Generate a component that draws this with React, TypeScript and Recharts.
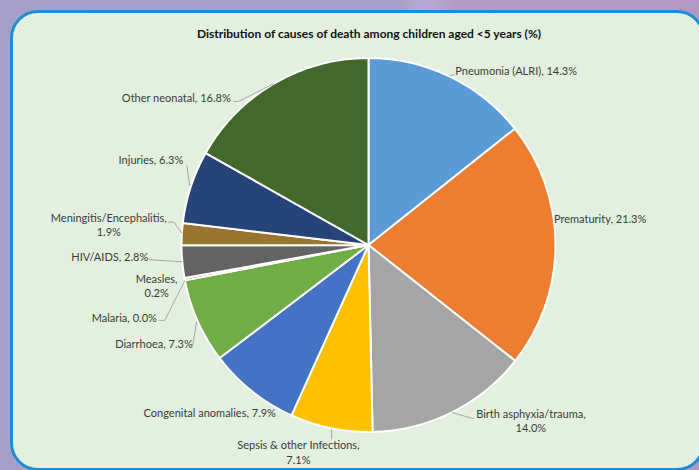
import React from 'react';
import { PieChart, Pie, Cell } from 'recharts';

const causes = [
  'Pneumonia (ALRI)',
  'Prematurity',
  'Birth asphyxia/trauma',
  'Sepsis & other Infections',
  'Congenital anomalies',
  'Diarrhoea',
  'Malaria',
  'Measles',
  'HIV/AIDS',
  'Meningitis/Encephalitis',
  'Injuries',
  'Other neonatal',
];
const shares = [14.3, 21.3, 14.0, 7.1, 7.9, 7.3, 0.0, 0.2, 2.8, 1.9, 6.3, 16.8];
const sliceColors = [
  '#5b9bd5', '#ed7d31', '#a5a5a5', '#ffc000', '#4472c4', '#70ad47',
  '#255e91', '#9e480e', '#636363', '#98742e', '#264478', '#43682b',
];

const data = causes.map((name, i) => ({ name, value: shares[i] }));

// label placement, relative to the point where the slice's mid angle meets the rim
type LabelPos = { dx: number; dy: number; anchor: 'start' | 'middle' | 'end'; twoLines?: boolean; line?: number[][] };
const labelPos: LabelPos[] = [
  { dx: 5.5, dy: -5.5, anchor: 'start', line: [[0, -1], [5, -2]] },
  { dx: -1.5, dy: -26, anchor: 'start' },
  { dx: 79, dy: 1.6, anchor: 'middle', twoLines: true, line: [[0, 0], [20, 6], [22, 6]] },
  { dx: -32.7, dy: 17.4, anchor: 'middle', twoLines: true, line: [[0.5, 1], [0.5, 11]] },
  { dx: 24, dy: 22, anchor: 'end' },
  { dx: -5, dy: 23, anchor: 'end', line: [[-1, 0], [-5, 24], [-7, 24]] },
  { dx: -28, dy: 38, anchor: 'end', line: [[0, 0], [-20, 40], [-26, 40]] },
  { dx: -28, dy: 0, anchor: 'middle', twoLines: true },
  { dx: -34, dy: -5, anchor: 'end', line: [[-33, -2], [0, 0]] },
  { dx: -73, dy: -16, anchor: 'middle', twoLines: true, line: [[-14, -12], [-8, -12], [0, -1]] },
  { dx: -7.5, dy: -27, anchor: 'end', line: [[-4, -22], [-1, -1]] },
  { dx: -43.5, dy: 15, anchor: 'end', line: [[-41, 18], [-36, 18], [0, 0]] },
];

const RAD = Math.PI / 180;

const renderLabel = (props: any) => {
  const { cx, cy, midAngle, outerRadius, index, name, value } = props;
  const ex = cx + outerRadius * Math.cos(-midAngle * RAD);
  const ey = cy + outerRadius * Math.sin(-midAngle * RAD);
  const pos = labelPos[index];
  const pct = `${Number(value).toFixed(1)}%`;
  const tx = ex + pos.dx;
  const ty = ey + pos.dy;
  return (
    <g key={`lbl-${index}`}>
      {pos.line && (
        <polyline
          points={pos.line.map(([a, b]) => `${ex + a},${ey + b}`).join(' ')}
          fill="none"
          stroke="#a6a6a6"
          strokeWidth={1}
        />
      )}
      {pos.twoLines ? (
        <text x={tx} y={ty} textAnchor={pos.anchor} fill="#3a3a3a" fontSize={11} fontFamily="Lato">
          <tspan x={tx} dy="0.35em">{name},</tspan>
          <tspan x={tx} dy="1.3em">{pct}</tspan>
        </text>
      ) : (
        <text x={tx} y={ty} dy="0.35em" textAnchor={pos.anchor} fill="#3a3a3a" fontSize={11} fontFamily="Lato">
          {name}, {pct}
        </text>
      )}
    </g>
  );
};

export default function App() {
  return (
    <div
      style={{
        position: 'fixed',
        left: 0,
        top: 0,
        width: 699,
        height: 470,
        overflow: 'hidden',
        background:
          'linear-gradient(105deg, #a6a0c8 0%, #a8a0c8 49%, #b6aad4 51%, #b5a6d0 53%, #b29ac6 55%, #b197c4 100%)',
      }}
    >
      <div
        style={{
          position: 'absolute',
          left: 10,
          top: 10,
          width: 695,
          height: 461,
          boxSizing: 'border-box',
          border: '3px solid #1a8fd8',
          borderRadius: 28,
          background: '#e3f0df',
        }}
      />
      <div
        style={{
          position: 'absolute',
          left: 119,
          width: 500,
          top: 26,
          textAlign: 'center',
          fontFamily: 'Lato',
          fontWeight: 700,
          fontSize: 12,
          color: '#111',
        }}
      >
        Distribution of causes of death among children aged &lt;5 years (%)
      </div>
      <div style={{ position: 'absolute', left: 0, top: 0 }}>
        <PieChart width={699} height={470} margin={{ top: 0, right: 0, bottom: 0, left: 0 }}>
          <Pie
            data={data}
            dataKey="value"
            nameKey="name"
            cx={368.5}
            cy={245}
            outerRadius={187}
            startAngle={90}
            endAngle={-270}
            stroke="#ffffff"
            strokeWidth={2}
            label={renderLabel}
            labelLine={false}
            isAnimationActive={false}
          >
            {data.map((d, i) => (
              <Cell key={d.name} fill={sliceColors[i]} />
            ))}
          </Pie>
        </PieChart>
      </div>
    </div>
  );
}
